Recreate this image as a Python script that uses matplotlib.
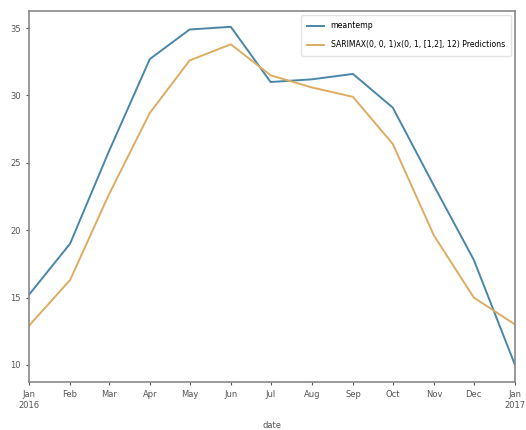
import pandas as pd
import matplotlib
matplotlib.use('Agg')
import matplotlib.pyplot as plt

# Monthly data, Jan 2016 .. Jan 2017
dates = pd.date_range('2016-01-01', '2017-01-01', freq='MS')
meantemp = [15.2, 19.0, 25.8, 32.7, 34.9, 35.1, 31.0, 31.2, 31.6, 29.1, 23.3, 17.8, 10.0]
predictions = [12.9, 16.3, 22.6, 28.7, 32.6, 33.8, 31.5, 30.6, 29.9, 26.4, 19.6, 15.0, 13.0]
tick_labels = ['Jan\n2016', 'Feb', 'Mar', 'Apr', 'May', 'Jun', 'Jul', 'Aug',
               'Sep', 'Oct', 'Nov', 'Dec', 'Jan\n2017']

fig = plt.figure(figsize=(5.26, 4.3), dpi=100)
ax = fig.add_axes([0.055, 0.112, 0.924, 0.862])

ax.plot(dates, meantemp, color='#4a86a8', lw=1.4, label='meantemp')
ax.plot(dates, predictions, color='#dcac62', lw=1.4,
        label='SARIMAX(0, 0, 1)x(0, 1, [1,2], 12) Predictions')

ax.set_xlim(dates[0], dates[-1])
ax.set_ylim(8.74, 36.26)
ax.set_yticks([10, 15, 20, 25, 30, 35])
ax.set_xticks(dates)
ax.set_xticklabels(tick_labels)
ax.tick_params(labelsize=6, colors='#555', length=2.5)
ax.set_xlabel('date', fontsize=6, color='#555', labelpad=8)
for s in ax.spines.values():
    s.set_color('#888')
    s.set_linewidth(1.2)

ax.legend(loc='upper right', fontsize=5.6, framealpha=1, edgecolor='#e4e4e4',
          labelspacing=1.3, borderpad=0.8, handlelength=2.2)

fig.savefig('out.png', dpi=100)
